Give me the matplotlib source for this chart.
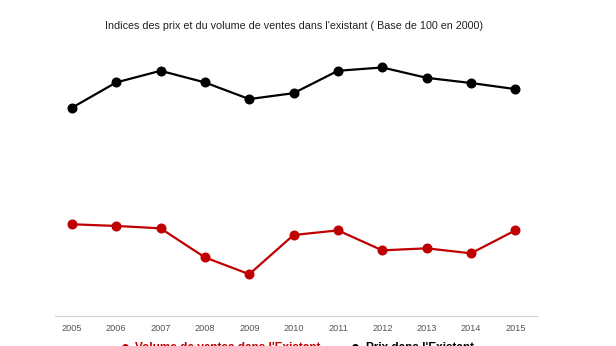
import matplotlib
matplotlib.use("Agg")
import matplotlib.pyplot as plt
from matplotlib.lines import Line2D

plt.rcParams['font.family'] = ['Liberation Sans', 'DejaVu Sans']

# === DATA (base 100 in 2000) ===
years = [2005, 2006, 2007, 2008, 2009, 2010, 2011, 2012, 2013, 2014, 2015]
prix = [170.0, 183.7, 190.0, 183.7, 174.7, 177.9, 190.0, 191.8, 186.2, 183.4, 180.1]
volume = [107.0, 106.1, 104.8, 89.1, 80.0, 101.2, 103.7, 92.9, 94.0, 91.3, 103.7]

red = '#c00000'

fig = plt.figure(figsize=(6.16, 3.46), dpi=100)
ax = fig.add_axes([0.0893, 0.0867, 0.7825, 0.783])

ax.plot(years, volume, color=red, lw=1.6, marker='o', ms=6.2, zorder=3)
ax.plot(years, prix, color='black', lw=1.6, marker='o', ms=6.2, zorder=3)

ax.set_xlim(2004.62, 2015.49)
ax.set_ylim(57.4, 203.9)
ax.set_xticks(years)
ax.set_xticklabels([str(y) for y in years], fontsize=6.6, color='#555555')
ax.tick_params(axis='x', length=0, pad=6)
ax.set_yticks([])

for side in ['top', 'right', 'left']:
    ax.spines[side].set_visible(False)
ax.spines['bottom'].set_color('#d0d0d0')
ax.spines['bottom'].set_linewidth(0.8)

fig.text(0.477, 0.926, "Indices des prix et du volume de ventes dans l'existant ( Base de 100 en 2000)",
         ha='center', va='center', fontsize=7.75, color='#222222')

# === LEGEND (partly cut off at the bottom edge, like the source) ===
handles = [
    Line2D([], [], color=red, marker='o', ls='none', ms=4),
    Line2D([], [], color='black', marker='o', ls='none', ms=4),
]
labels = ["Volume de ventes dans l'Existant", "Prix dans l'Existant"]
leg = fig.legend(handles, labels, loc='center', bbox_to_anchor=(0.482, -0.005), ncol=2,
                 frameon=False, fontsize=8.5, handletextpad=0.5, columnspacing=2.5,
                 handlelength=0.8)
for txt, col in zip(leg.get_texts(), [red, 'black']):
    txt.set_color(col)
    txt.set_fontweight('bold')

fig.savefig("out.png", dpi=100)
